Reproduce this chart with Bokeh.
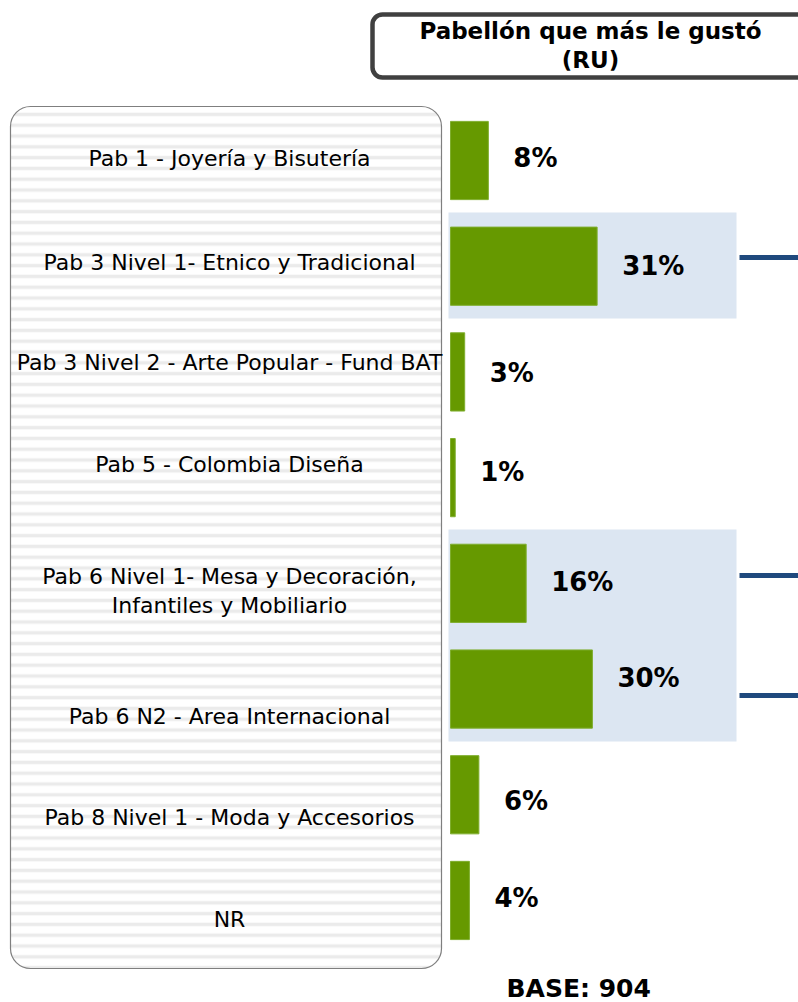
from bokeh.plotting import figure
from bokeh.models import Range1d, BoxAnnotation, ColumnDataSource
from bokeh.core.properties import value
from bokeh.embed import file_html
from bokeh.resources import INLINE

# ---- data ----
categories = [
    "Pab 1 - Joyería y Bisutería",
    "Pab 3 Nivel 1- Etnico y Tradicional",
    "Pab 3 Nivel 2 - Arte Popular - Fund BAT",
    "Pab 5 - Colombia Diseña",
    "Pab 6 Nivel 1- Mesa y Decoración,\nInfantiles y Mobiliario",
    "Pab 6 N2 - Area Internacional",
    "Pab 8 Nivel 1 - Moda y Accesorios",
    "NR",
]
values = [8, 31, 3, 1, 16, 30, 6, 4]
title_text = "Pabellón que más le gustó\n(RU)"
base_text = "BASE: 904"

# ---- layout (screen / style) ----
W, H = 798, 1002
px_per_pct = 4.73
zero_px = 450
row_px = 105.71
first_row_px = 160
label_dy = [-2, -4, -9, -13, 8, 27, 23, 19]
pct_dy = [-3, 0, 1, -6, -1, -11, 6, -2]

FONT = value("DejaVu Sans")

idx = list(range(len(values)))
src = ColumnDataSource(dict(
    y=idx, v=values, cat=categories,
    pct=[f"{v}%" for v in values],
    ldy=label_dy, pdy=pct_dy,
))

x_start = -zero_px / px_per_pct
x_end = (W - zero_px) / px_per_pct
y_top = -first_row_px / row_px
y_bottom = y_top + H / row_px

p = figure(width=W, height=H, output_backend="svg", toolbar_location=None,
           x_range=Range1d(x_start, x_end), y_range=Range1d(y_bottom, y_top),
           min_border=0, outline_line_color=None,
           x_axis_location=None, y_axis_location=None)
p.grid.visible = False
p.background_fill_color = "white"
p.border_fill_color = "white"
p.extra_x_ranges = {"px": Range1d(0, W)}
p.extra_y_ranges = {"px": Range1d(H, 0)}

# left striped rounded panel
panel = BoxAnnotation(left=10, right=441, top=106, bottom=968,
                      x_range_name="px", y_range_name="px",
                      fill_color="white", fill_alpha=1.0,
                      hatch_pattern="-", hatch_color="#ebebeb", hatch_alpha=1.0,
                      hatch_scale=10.8, hatch_weight=3.5,
                      line_color="#7f7f7f", line_alpha=1.0, line_width=1.2,
                      border_radius=20, level="underlay")
p.add_layout(panel)

# title box
tbox = BoxAnnotation(left=372, right=812, top=14, bottom=77,
                     x_range_name="px", y_range_name="px",
                     fill_color="white", fill_alpha=1.0,
                     line_color="#404040", line_alpha=1.0, line_width=4.5,
                     border_radius=10, level="underlay")
p.add_layout(tbox)

# highlight boxes
p.quad(left=[448, 448], right=[736, 736], top=[212, 529], bottom=[318, 741],
       x_range_name="px", y_range_name="px",
       fill_color="#dce6f2", line_color=None)

# connector lines
p.segment(x0=[739, 739, 739], x1=[810, 810, 810], y0=[257, 575, 695], y1=[257, 575, 695],
          x_range_name="px", y_range_name="px",
          line_color="#1f497d", line_width=5)

# bars
p.hbar(y="y", left=0, right="v", height=0.74, source=src,
       fill_color="#669900", line_color="#7fae2e", line_width=1)

# percentage labels
p.text(x="v", y="y", text="pct", source=src, x_offset=25, y_offset="pdy",
       text_font=FONT, text_font_style="bold", text_font_size="26px",
       text_align="left", text_baseline="middle", text_color="black")

# category labels
p.text(x=x_start + 229 / px_per_pct, y="y", text="cat", source=src, y_offset="ldy",
       text_font=FONT, text_font_size="22px", text_line_height=1.15,
       text_align="center", text_baseline="middle", text_color="black")

# title
p.text(x=[590], y=[45], text=[title_text], x_range_name="px", y_range_name="px",
       text_font=FONT, text_font_style="bold", text_font_size="23px",
       text_line_height=1.13, text_align="center", text_baseline="middle",
       text_color="black")

# base
p.text(x=[506], y=[988], text=[base_text], x_range_name="px", y_range_name="px",
       text_font=FONT, text_font_style="bold", text_font_size="25px",
       text_align="left", text_baseline="middle", text_color="black")

open("out.html", "w").write(file_html(p, INLINE))
